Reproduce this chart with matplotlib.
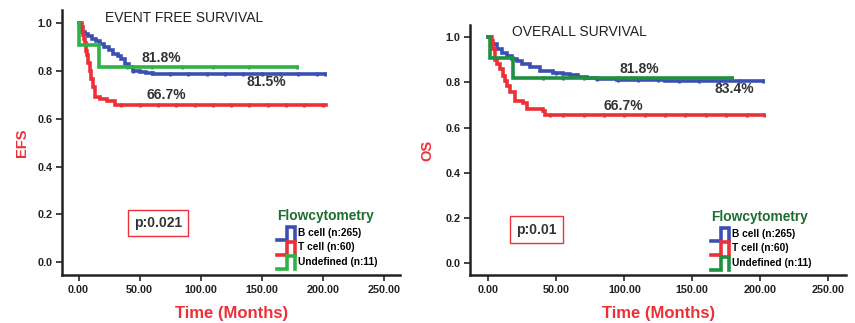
import numpy as np
import matplotlib
matplotlib.use("Agg")
import matplotlib.pyplot as plt
from matplotlib.lines import Line2D
from matplotlib.legend_handler import HandlerBase

plt.rcParams['font.family'] = ['Liberation Sans', 'DejaVu Sans']

BLUE = '#3b4fb5'
RED = '#ec3038'
GREEN_L = '#2fb347'
GREEN_R = '#1f9040'
LEG_GREEN = '#1f6e31'

# ---- EFS (left) : time in months, survival fraction (step, where=post)
efs_b_t = [0, 1, 3, 5, 8, 11, 14, 17.5, 21, 25, 28.4, 32, 35, 38, 41, 44.8, 50, 55, 61.2, 202]
efs_b_s = [1.0, 0.977, 0.965, 0.955, 0.945, 0.935, 0.925, 0.914, 0.900, 0.888, 0.872, 0.862, 0.850,
           0.830, 0.815, 0.800, 0.795, 0.790, 0.786, 0.786]
efs_t_t = [0, 2.5, 3.5, 4.5, 5.2, 6, 7, 8, 9.3, 10.5, 12, 13.4, 17.5, 23, 29.7, 203]
efs_t_s = [1.0, 0.983, 0.95, 0.933, 0.917, 0.883, 0.865, 0.833, 0.80, 0.767, 0.733, 0.69, 0.683,
           0.675, 0.657, 0.657]
efs_u_t = [0, 0.5, 17, 179]
efs_u_s = [1.0, 0.909, 0.818, 0.818]

# censored times
efs_b_c = [45, 60, 75, 90, 105, 120, 135, 150, 165, 180, 195, 202]
efs_t_c = [35, 50, 65, 80, 95, 110, 125, 140, 155, 170, 185, 200]
efs_u_c = [40, 60, 85, 110, 140, 179]

# ---- OS (right)
os_b_t = [0, 2, 6.2, 10, 13.5, 17, 20.9, 25, 30.7, 38, 47.8, 55, 60, 66, 72.3, 80, 94.4, 130, 202]
os_b_s = [1.0, 0.97, 0.948, 0.93, 0.918, 0.905, 0.896, 0.88, 0.867, 0.852, 0.844, 0.838, 0.832,
          0.825, 0.819, 0.815, 0.812, 0.808, 0.807]
os_t_t = [0, 2.5, 3.5, 4.9, 6.5, 8.6, 10.5, 12.3, 14, 16, 19.6, 25.7, 28.2, 40.4, 41.7, 203]
os_t_s = [1.0, 0.983, 0.95, 0.90, 0.883, 0.86, 0.83, 0.807, 0.783, 0.756, 0.718, 0.711, 0.681,
          0.674, 0.655, 0.655]
os_u_t = [0, 1.25, 18.4, 179]
os_u_s = [1.0, 0.909, 0.818, 0.818]

os_b_c = [50, 65, 80, 95, 110, 125, 140, 155, 170, 185, 202]
os_t_c = [45, 55, 70, 85, 100, 115, 130, 145, 160, 175, 190, 203]
os_u_c = [40, 55, 70, 95, 105, 179]

groups = ['B cell (n:265)', 'T cell (n:60)', 'Undefined (n:11)']
xticks = [0, 50, 100, 150, 200, 250]
yticks = [0.0, 0.2, 0.4, 0.6, 0.8, 1.0]


class StepHandler(HandlerBase):
    # Kaplan-Meier style legend icon
    def create_artists(self, legend, orig_handle, xdescent, ydescent, width, height, fontsize, trans):
        xs = np.array([0, 0.5, 0.5, 0.95, 0.95]) * width - xdescent
        ys = np.array([-0.3, -0.3, 1.05, 1.05, -0.3]) * height - ydescent
        ln = Line2D(xs, ys, color=orig_handle.get_color(), lw=2.6, solid_joinstyle='miter')
        ln.set_transform(trans)
        return [ln]


def surv_at(t, s, times):
    idx = np.searchsorted(t, times, side='right') - 1
    return np.array(s)[idx]


def km_panel(ax, curves, title, title_xy, ylabel, ylpad, labels, pbox, legend_anchor, green):
    handles = []
    cols = [BLUE, RED, green]
    for (t, s, c), col in zip(curves, cols):
        h, = ax.step(t, s, where='post', color=col, lw=2.6, solid_joinstyle='miter')
        ax.plot(c, surv_at(t, s, c), ls='none', marker='|', ms=3.5, mew=2.0, color=col)
        handles.append(h)

    ax.set_xlim(-13.6, 263.5)
    ax.set_ylim(-0.053, 1.055)
    ax.set_xticks(xticks)
    ax.set_xticklabels(['%.2f' % v for v in xticks])
    ax.set_yticks(yticks)
    ax.set_yticklabels(['%.1f' % v for v in yticks])
    for sp in ['top', 'right']:
        ax.spines[sp].set_visible(False)
    for sp in ['left', 'bottom']:
        ax.spines[sp].set_linewidth(1.8)
        ax.spines[sp].set_color('#222222')
    ax.tick_params(direction='out', length=4, width=1.2, color='#222222', labelsize=7.8, pad=3)
    for lab in ax.get_xticklabels() + ax.get_yticklabels():
        lab.set_fontweight('bold')
        lab.set_color('#222222')

    ax.set_xlabel('Time (Months)', color=RED, fontsize=12, fontweight='bold', labelpad=8)
    ax.set_ylabel(ylabel, color=RED, fontsize=10.5, fontweight='bold', labelpad=ylpad)

    ax.text(title_xy[0], title_xy[1], title, fontsize=10, color='#222222', va='center', ha='left')
    for txt, x, y in labels:
        ax.text(x, y, txt, fontsize=10, fontweight='bold', color='#333333', ha='center', va='center')

    ax.text(pbox[1], pbox[2], pbox[0], fontsize=10, fontweight='bold', color='#333333',
            ha='center', va='center',
            bbox=dict(boxstyle='square,pad=0.45', fc='white', ec=RED, lw=1.0))

    leg = ax.legend(handles, groups, handler_map={h: StepHandler() for h in handles},
                    loc='lower left', bbox_to_anchor=legend_anchor, frameon=False,
                    title='Flowcytometry', alignment='left',
                    prop={'size': 7.3, 'weight': 'bold'},
                    title_fontproperties={'size': 9.9, 'weight': 'bold'},
                    handlelength=1.9, handleheight=1.1, handletextpad=0.15,
                    labelspacing=0.42, borderpad=0, borderaxespad=0)
    leg.get_title().set_color(LEG_GREEN)


fig = plt.figure(figsize=(8.55, 3.23), dpi=100)
ax1 = fig.add_axes([0.0725, 0.149, 0.3955, 0.82])
ax2 = fig.add_axes([0.5497, 0.148, 0.4403, 0.775])

km_panel(ax1,
         [(efs_b_t, efs_b_s, efs_b_c), (efs_t_t, efs_t_s, efs_t_c), (efs_u_t, efs_u_s, efs_u_c)],
         'EVENT FREE SURVIVAL', (21.6, 1.02), 'EFS', 6,
         [('81.8%', 68, 0.856), ('81.5%', 154, 0.754), ('66.7%', 72, 0.698)],
         ('p:0.021', 65, 0.165), (0.636, 0.03), GREEN_L)

km_panel(ax2,
         [(os_b_t, os_b_s, os_b_c), (os_t_t, os_t_s, os_t_c), (os_u_t, os_u_s, os_u_c)],
         'OVERALL SURVIVAL', (17.2, 1.022), 'OS', 8,
         [('81.8%', 111, 0.859), ('83.4%', 180.7, 0.773), ('66.7%', 99.3, 0.696)],
         ('p:0.01', 35.3, 0.149), (0.64, 0.03), GREEN_R)

fig.savefig('out.png', dpi=100)
